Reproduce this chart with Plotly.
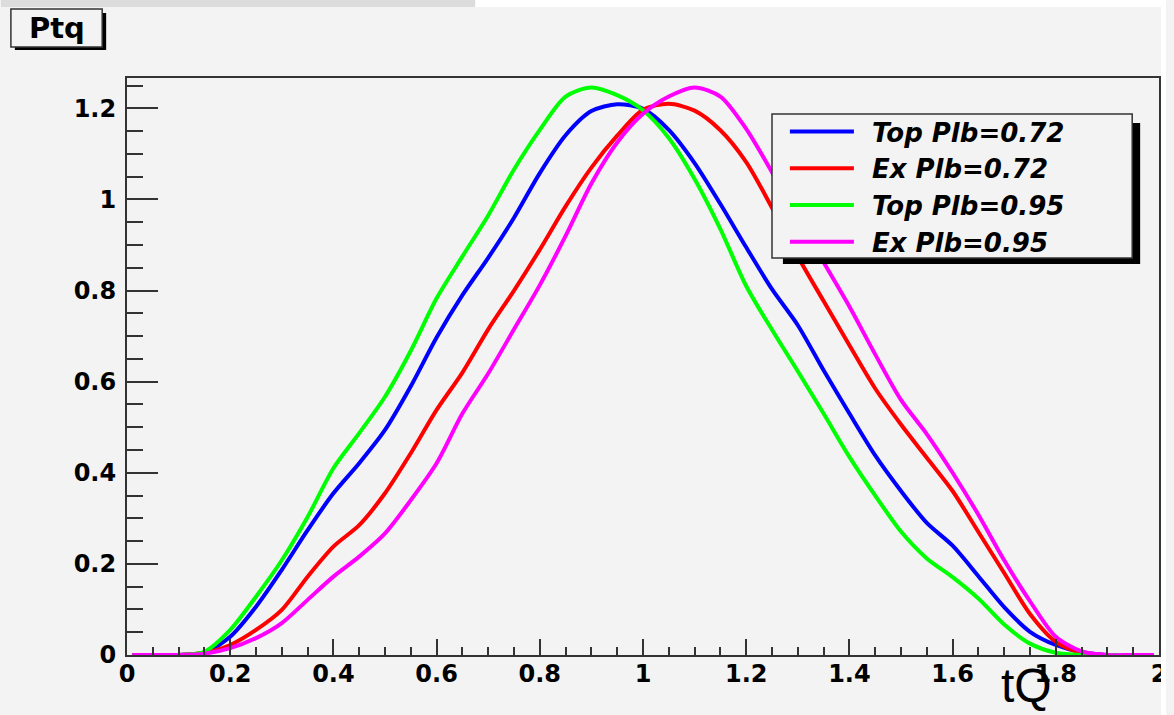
import plotly.graph_objects as go

# ---- data ----
tq = [0.01, 0.05, 0.10, 0.15, 0.20, 0.25, 0.30, 0.35, 0.40, 0.45,
      0.50, 0.55, 0.60, 0.65, 0.70, 0.75, 0.80, 0.85, 0.90, 0.95,
      1.00, 1.05, 1.10, 1.15, 1.20, 1.25, 1.30, 1.35, 1.40, 1.45,
      1.50, 1.55, 1.60, 1.65, 1.70, 1.75, 1.80, 1.85, 1.90, 1.95, 1.99]

top_072 = [0, 0, 0, 0.005, 0.040, 0.106, 0.187, 0.274, 0.355, 0.421,
           0.494, 0.590, 0.697, 0.790, 0.872, 0.960, 1.058, 1.141, 1.194, 1.209,
           1.199, 1.153, 1.080, 0.990, 0.895, 0.803, 0.724, 0.625, 0.530, 0.438,
           0.360, 0.290, 0.240, 0.173, 0.105, 0.051, 0.022, 0.006, 0, 0, 0]

ex_072 = [0, 0, 0, 0.005, 0.022, 0.055, 0.099, 0.172, 0.238, 0.285,
          0.355, 0.443, 0.538, 0.620, 0.715, 0.800, 0.890, 0.985, 1.070, 1.140,
          1.197, 1.210, 1.195, 1.152, 1.082, 0.982, 0.875, 0.777, 0.680, 0.585,
          0.506, 0.433, 0.360, 0.270, 0.180, 0.090, 0.029, 0.005, 0, 0, 0]

top_095 = [0, 0, 0, 0.007, 0.055, 0.128, 0.208, 0.303, 0.410, 0.487,
           0.567, 0.668, 0.783, 0.875, 0.965, 1.066, 1.153, 1.226, 1.246, 1.229,
           1.196, 1.135, 1.045, 0.935, 0.810, 0.714, 0.623, 0.530, 0.435, 0.350,
           0.271, 0.212, 0.171, 0.124, 0.067, 0.025, 0.005, 0, 0, 0, 0]

ex_095 = [0, 0, 0, 0.003, 0.015, 0.037, 0.070, 0.121, 0.172, 0.216,
          0.267, 0.340, 0.421, 0.530, 0.618, 0.715, 0.812, 0.920, 1.035, 1.125,
          1.188, 1.226, 1.246, 1.226, 1.155, 1.060, 0.960, 0.862, 0.765, 0.660,
          0.560, 0.485, 0.400, 0.308, 0.208, 0.118, 0.040, 0.008, 0, 0, 0]

series_names = ["Top Plb=0.72", "Ex Plb=0.72", "Top Plb=0.95", "Ex Plb=0.95"]
series_values = [top_072, ex_072, top_095, ex_095]
series_colors = ["#0000ff", "#ff0000", "#00ff00", "#ff00ff"]

x_ticks = [0, 0.2, 0.4, 0.6, 0.8, 1, 1.2, 1.4, 1.6, 1.8, 2]
x_tick_labels = ["0", "0.2", "0.4", "0.6", "0.8", "1", "1.2", "1.4", "1.6", "1.8", "2"]
y_ticks = [0, 0.2, 0.4, 0.6, 0.8, 1, 1.2]
y_tick_labels = ["0", "0.2", "0.4", "0.6", "0.8", "1", "1.2"]

# ---- layout geometry ----
W, H = 1174, 715
L, R, T, B = 127, 1167, 78, 655
BG = "#f3f3f3"
FRAME = "#333333"


def px2x(px):
    return (px - L) / (R - L)


def py2y(py):
    return (B - py) / (B - T)


fig = go.Figure()
for name, vals, col in zip(series_names, series_values, series_colors):
    fig.add_trace(go.Scatter(
        x=tq, y=vals, mode="lines", name="\u2002" + name,
        line=dict(color=col, width=4, shape="spline", smoothing=0.8),
    ))

tick_font = dict(family="DejaVu Sans", size=24, color="black", weight="bold")

fig.update_layout(
    width=W, height=H,
    margin=dict(l=L, r=W - R, t=T, b=H - B, pad=0),
    paper_bgcolor=BG, plot_bgcolor=BG,
    showlegend=True,
    legend=dict(
        x=px2x(790), y=py2y(108), xanchor="left", yanchor="top",
        bgcolor="rgba(0,0,0,0)", borderwidth=0,
        font=dict(family="DejaVu Sans", size=26, color="black",
                  weight="bold", style="italic"),
        itemwidth=64, tracegroupgap=0,
    ),
    xaxis=dict(
        range=[0, 2], showgrid=False, zeroline=False,
        showline=True, linecolor=FRAME, linewidth=2, mirror=True,
        ticks="inside", ticklen=16, tickwidth=2, tickcolor=FRAME,
        tickvals=x_ticks, ticktext=x_tick_labels, tickfont=tick_font,
        ticklabelstandoff=-4,
        minor=dict(dtick=0.05, ticks="inside", ticklen=8, tickwidth=2,
                   tickcolor=FRAME, showgrid=False),
    ),
    yaxis=dict(
        range=[0, 1.2667], showgrid=False, zeroline=False,
        showline=True, linecolor=FRAME, linewidth=2, mirror=True,
        ticks="inside", ticklen=31, tickwidth=2, tickcolor=FRAME,
        tickvals=y_ticks, ticktext=y_tick_labels, tickfont=tick_font,
        ticklabelstandoff=4,
        minor=dict(dtick=0.05, ticks="inside", ticklen=16, tickwidth=2,
                   tickcolor=FRAME, showgrid=False),
    ),
)

shapes = []
# top grey strip and white edges of the canvas image
shapes.append(dict(type="rect", xref="paper", yref="paper",
                   x0=px2x(0), x1=px2x(478), y0=py2y(0), y1=py2y(7),
                   fillcolor="#dcdcdc", line=dict(width=0), layer="above"))
shapes.append(dict(type="rect", xref="paper", yref="paper",
                   x0=px2x(478), x1=px2x(W), y0=py2y(0), y1=py2y(7),
                   fillcolor="white", line=dict(width=0), layer="above"))
shapes.append(dict(type="rect", xref="paper", yref="paper",
                   x0=px2x(1169), x1=px2x(W), y0=py2y(0), y1=py2y(H),
                   fillcolor="white", line=dict(width=0), layer="above"))
# title box with shadow
shapes.append(dict(type="rect", xref="paper", yref="paper",
                   x0=px2x(14), x1=px2x(106), y0=py2y(13), y1=py2y(50),
                   fillcolor="black", line=dict(width=0), layer="above"))
shapes.append(dict(type="rect", xref="paper", yref="paper",
                   x0=px2x(10), x1=px2x(102), y0=py2y(9), y1=py2y(47),
                   fillcolor=BG, line=dict(color=FRAME, width=1.5), layer="above"))
# legend box with shadow
shapes.append(dict(type="rect", xref="paper", yref="paper",
                   x0=px2x(788), x1=px2x(1148), y0=py2y(123), y1=py2y(264),
                   fillcolor="black", line=dict(width=0), layer="above"))
shapes.append(dict(type="rect", xref="paper", yref="paper",
                   x0=px2x(777), x1=px2x(1140), y0=py2y(114), y1=py2y(258),
                   fillcolor=BG, line=dict(color=FRAME, width=1.5), layer="above"))
fig.update_layout(shapes=shapes)

fig.add_annotation(text="Ptq", xref="paper", yref="paper",
                   x=px2x(56), y=py2y(28), xanchor="center", yanchor="middle",
                   showarrow=False,
                   font=dict(family="DejaVu Sans", size=29, color="black", weight="bold"))
fig.add_annotation(text="tQ", xref="paper", yref="paper",
                   x=px2x(1033), y=py2y(685), xanchor="center", yanchor="middle",
                   showarrow=False,
                   font=dict(family="Liberation Sans", size=48, color="black"))

fig.write_html("out.html", config={"displayModeBar": False},
               post_script="document.body.style.margin='0px';")
